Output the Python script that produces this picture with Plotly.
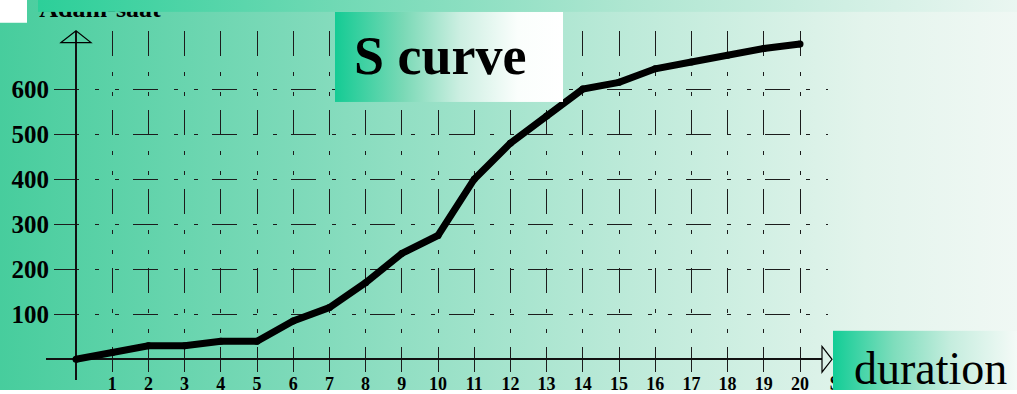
import base64
import plotly.graph_objects as go

# Cumulative man-hours per period (S curve)
periods = list(range(0, 21))
man_hours = [0, 15, 30, 30, 40, 40, 85, 115, 170, 235, 275, 400, 480, 540,
             600, 615, 645, 660, 675, 690, 700]
x_ticks = list(range(1, 21))
y_ticks = [100, 200, 300, 400, 500, 600]
y_label = "Adam-saat"
x_label_hidden = "S"
x_label = "duration"
title_text = "S curve"

# Canvas and plot geometry (pixels)
W, H = 1017, 394
L, R, T, B = 46, 828, 31, 384          # plot area edges
X0, XS = 76, 36.2                      # pixel of x=0, pixels per period
Y0, YS = 363, 0.455                    # pixel of y=0, pixels per man-hour

SERIF = "Liberation Serif"
GRID = "#1c1c1c"
# dash patterns for the dotted-dashed grid
V_DASH = "25px,16px,4px,16px,4px,14px"
H_DASH = "0px,8px,25px,16px,4px,16px,4px,6px"


def px(xp):
    return xp / W


def py(yp):
    return 1 - yp / H


def gradient(w, h, stops):
    stop_xml = "".join(f'<stop offset="{o}" stop-color="{c}"/>' for o, c in stops)
    svg = (f'<svg xmlns="http://www.w3.org/2000/svg" width="{w}" height="{h}" '
           f'viewBox="0 0 {w} {h}" preserveAspectRatio="none"><defs>'
           f'<linearGradient id="g" x1="0" y1="0" x2="1" y2="0">{stop_xml}'
           f'</linearGradient></defs><rect width="{w}" height="{h}" fill="url(#g)"/></svg>')
    return "data:image/svg+xml;base64," + base64.b64encode(svg.encode()).decode()


def panel(x0, y0, w, h, stops, layer):
    return dict(source=gradient(w, h, stops), xref="paper", yref="paper",
                x=px(x0), y=py(y0), sizex=w / W, sizey=h / H,
                xanchor="left", yanchor="top", sizing="stretch", layer=layer)


fig = go.Figure()

fig.add_trace(go.Scatter(
    x=periods, y=man_hours, mode="lines+markers",
    line=dict(color="black", width=7),
    marker=dict(color="black", size=7),
    hoverinfo="skip", showlegend=False,
))

# axis captions that sit partly under the header band / duration box
fig.add_trace(go.Scatter(
    x=[100, 835], y=[11, 389], text=[y_label, x_label_hidden], mode="text",
    textfont=dict(family=SERIF, size=[26, 20], color="black", weight="bold"),
    xaxis="x2", yaxis="y2", hoverinfo="skip", showlegend=False,
))

tick_font_x = dict(family=SERIF, size=18, color="black", weight="bold")
tick_font_y = dict(family=SERIF, size=25, color="black", weight="bold")

fig.update_layout(
    width=W, height=H,
    margin=dict(l=0, r=0, t=0, b=0),
    paper_bgcolor="white",
    plot_bgcolor="rgba(0,0,0,0)",
    showlegend=False,
    xaxis=dict(
        domain=[px(L), px(R)], range=[(L - X0) / XS, (R - X0) / XS],
        anchor="free", position=py(Y0),
        tickmode="array", tickvals=x_ticks, ticktext=[str(v) for v in x_ticks],
        ticks="outside", ticklen=8, tickcolor="rgba(0,0,0,0)",
        tickfont=tick_font_x,
        showgrid=True, gridcolor=GRID, gridwidth=1, griddash=V_DASH,
        zeroline=True, zerolinecolor="#111111", zerolinewidth=1.6,
        showline=False, fixedrange=True,
    ),
    yaxis=dict(
        domain=[py(B), py(T)], range=[(Y0 - B) / YS, (Y0 - T) / YS],
        anchor="free", position=px(X0),
        tickmode="array", tickvals=y_ticks, ticktext=[str(v) for v in y_ticks],
        ticks="outside", ticklen=22, tickcolor="rgba(0,0,0,0)",
        tickfont=tick_font_y,
        showgrid=True, gridcolor=GRID, gridwidth=1, griddash=H_DASH,
        zeroline=True, zerolinecolor="#111111", zerolinewidth=1.6,
        showline=False, fixedrange=True,
    ),
    xaxis2=dict(domain=[0, 1], range=[0, W], anchor="y2", visible=False, fixedrange=True),
    yaxis2=dict(domain=[0, 1], range=[H, 0], anchor="x2", visible=False, fixedrange=True),
)

fig.update_layout(images=[
    # slide background
    panel(0, 0, W, H, [(0, "#47cd9d"), (0.3, "#7fdaba"), (0.62, "#bdead9"),
                       (0.85, "#e3f4ec"), (1, "#f0f8f4")], "below"),
    # header band
    panel(38, 0, W - 38, 12, [(0, "#2ccf99"), (0.3, "#6fd9b4"), (0.6, "#aee6d1"),
                              (1, "#eaf6f1")], "above"),
    # title box
    panel(335, 12, 228, 91, [(0, "#14cb94"), (0.3, "#7ad9b6"), (0.55, "#cdefe2"),
                             (0.8, "#fafefc"), (1, "#ffffff")], "above"),
    # duration box
    panel(833, 334, W - 833, H - 334, [(0, "#12cd96"), (0.33, "#7eddbc"),
                                        (0.64, "#c5edde"), (1, "#f4faf7")], "above"),
])

fig.update_layout(shapes=[
    # white corner block
    dict(type="rect", xref="paper", yref="paper", x0=0, x1=px(27), y0=py(23), y1=1,
         fillcolor="white", line=dict(width=0), layer="above"),
    # y-axis arrow head
    dict(type="path", xref="paper", yref="paper",
         path=f"M {px(61)},{py(43)} L {px(X0)},{py(T)} L {px(91)},{py(43)} Z",
         line=dict(color="black", width=1.2), fillcolor="rgba(0,0,0,0)", layer="above"),
    # x-axis arrow head
    dict(type="path", xref="paper", yref="paper",
         path=f"M {px(822)},{py(350)} L {px(832)},{py(Y0)} L {px(822)},{py(376)} Z",
         line=dict(color="black", width=1.2), fillcolor="#dcf1e8", layer="above"),
])

fig.update_layout(annotations=[
    dict(text=title_text, xref="paper", yref="paper", x=px(440), y=py(57),
         xanchor="center", yanchor="middle", showarrow=False,
         font=dict(family=SERIF, size=54, color="black", weight="bold")),
    dict(text=x_label, xref="paper", yref="paper", x=px(930), y=py(372),
         xanchor="center", yanchor="middle", showarrow=False,
         font=dict(family=SERIF, size=46, color="black")),
])

fig.write_html("out.html")
